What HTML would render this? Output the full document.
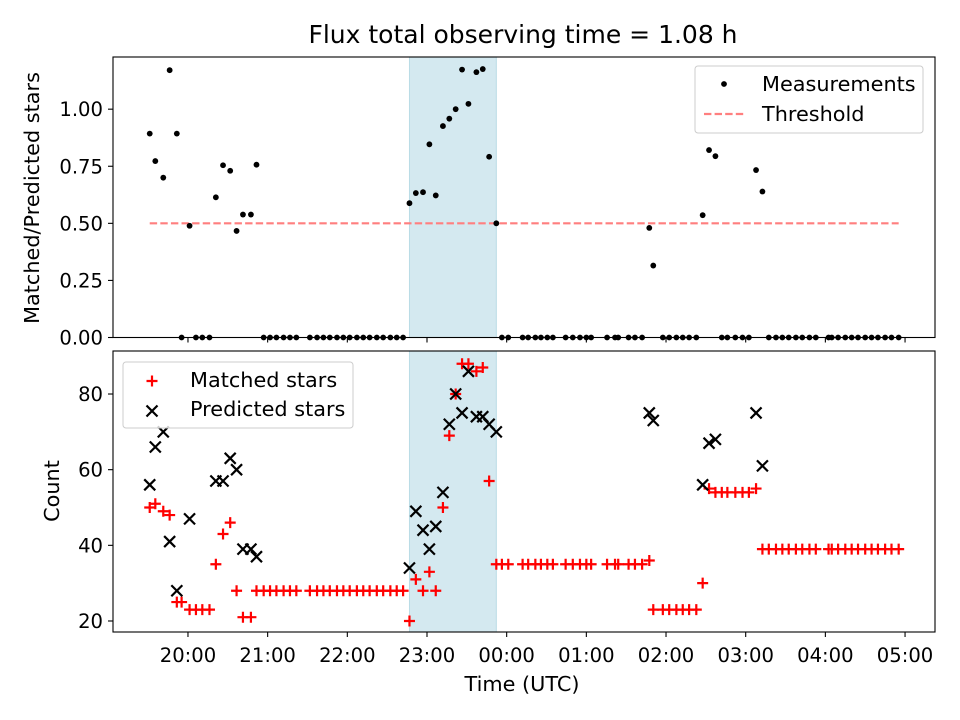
<!DOCTYPE html>
<html><head><meta charset="utf-8"><style>
html,body{margin:0;padding:0;background:#fff;}
svg{display:block;font-family:"DejaVu Sans","Liberation Sans",sans-serif;}
</style></head><body>
<svg id="chart" width="960" height="720" viewBox="0 0 960 720" xmlns="http://www.w3.org/2000/svg">
<rect x="0" y="0" width="960" height="720" fill="#fff"/>
<text x="523" y="43" font-size="25" text-anchor="middle">Flux total observing time = 1.08 h</text>
<g id="top"></g>
<g id="bot"></g>
<text transform="translate(39,198) rotate(-90)" font-size="20.8" text-anchor="middle">Matched/Predicted stars</text>
<text transform="translate(59,491) rotate(-90)" font-size="20.8" text-anchor="middle">Count</text>
<text x="522" y="691" font-size="20.8" text-anchor="middle">Time (UTC)</text>
</svg>
<script>
// hours since 20:00 UTC
const times = [-0.48,-0.41,-0.31,-0.23,-0.14,-0.08,0.02,0.10,0.18,0.27,0.35,0.44,0.53,0.61,0.69,0.79,0.86,0.95,1.03,1.11,1.20,1.28,1.36,1.53,1.62,1.70,1.78,1.87,1.95,2.03,2.12,2.20,2.28,2.37,2.45,2.54,2.62,2.70,2.78,2.86,2.95,3.03,3.11,3.20,3.28,3.36,3.44,3.52,3.62,3.70,3.78,3.87,3.94,4.02,4.20,4.27,4.36,4.43,4.51,4.58,4.74,4.83,4.92,5.00,5.06,5.26,5.36,5.40,5.53,5.61,5.70,5.79,5.84,5.96,6.04,6.13,6.21,6.29,6.38,6.46,6.54,6.62,6.70,6.77,6.87,6.96,7.04,7.13,7.21,7.29,7.38,7.46,7.54,7.63,7.71,7.80,7.88,8.04,8.08,8.16,8.25,8.33,8.41,8.50,8.58,8.66,8.75,8.83,8.92];
const matched = [50,51,49,48,25,25,23,23,23,23,35,43,46,28,21,21,28,28,28,28,28,28,28,28,28,28,28,28,28,28,28,28,28,28,28,28,28,28,20,31,28,33,28,50,69,80,88,88,86,87,57,35,35,35,35,35,35,35,35,35,35,35,35,35,35,35,35,35,35,35,35,36,23,23,23,23,23,23,23,30,55,54,54,54,54,54,54,55,39,39,39,39,39,39,39,39,39,39,39,39,39,39,39,39,39,39,39,39,39];
const predicted = [56,66,70,41,28,null,47,null,null,null,57,57,63,60,39,39,37,null,null,null,null,null,null,null,null,null,null,null,null,null,null,null,null,null,null,null,null,null,34,49,44,39,45,54,72,80,75,86,74,74,72,70,null,null,null,null,null,null,null,null,null,null,null,null,null,null,null,null,null,null,null,75,73,null,null,null,null,null,null,56,67,68,null,null,null,null,null,75,61,null,null,null,null,null,null,null,null,null,null,null,null,null,null,null,null,null,null,null,null,null,null];
const threshold = 0.5;
const spanStart = 2.78, spanEnd = 3.87;
const xTickValues = [0,1,2,3,4,5,6,7,8,9];
const xTickLabels = ["20:00","21:00","22:00","23:00","00:00","01:00","02:00","03:00","04:00","05:00"];
const topTicks = [0,0.25,0.5,0.75,1.0];
const topTickLabels = ["0.00","0.25","0.50","0.75","1.00"];
const botTicks = [20,40,60,80];

const NS="http://www.w3.org/2000/svg";
const L=113,R=935;
const X0=-0.941,X1=9.376;
const sx=v=>L+(v-X0)/(X1-X0)*(R-L);
const T={top:57,bot:337.5,y0:0,y1:1.2285};
const B={top:351,bot:632,y0:17.09,y1:91.37};
const sy=(p,v)=>p.bot-(v-p.y0)/(p.y1-p.y0)*(p.bot-p.top);
const FS=19.6, LFS=20.8;
function mk(parent,tag,attrs){const e=document.createElementNS(NS,tag);for(const k in attrs)e.setAttribute(k,attrs[k]);parent.appendChild(e);return e;}
const gt=document.getElementById('top'), gb=document.getElementById('bot');

function panel(g,p,ticks,labels,showX){
  const s=mk(g,'rect',{x:sx(spanStart),y:p.top,width:sx(spanEnd)-sx(spanStart),height:p.bot-p.top,fill:'#d4e9f0',stroke:'#b9dbe6','stroke-width':1});
  
  
  ticks.forEach((t,i)=>{
    const y=sy(p,t);
    mk(g,'line',{x1:L-5,x2:L,y1:y,y2:y,stroke:'#000','stroke-width':1.1});
    const tx=mk(g,'text',{x:L-10,y:y+7,'font-size':FS,'text-anchor':'end'});
    tx.textContent=labels[i];
    
    
  });
  xTickValues.forEach((v,i)=>{
    const x=sx(v);
    mk(g,'line',{x1:x,x2:x,y1:p.bot,y2:p.bot+5,stroke:'#000','stroke-width':1.1});
    if(showX){const tx=mk(g,'text',{x:x,y:662,'font-size':FS,'text-anchor':'middle'});
      tx.textContent=xTickLabels[i];
      
      }
  });
}
panel(gt,T,topTicks,topTickLabels,false);
panel(gb,B,botTicks,botTicks.map(String),true);

// top panel
const th=mk(gt,'line',{x1:sx(times[0]),x2:sx(times[times.length-1]),y1:sy(T,threshold),y2:sy(T,threshold),stroke:'#ff7f7f','stroke-width':2.2,'stroke-dasharray':'7.4,3.2'});


times.forEach((t,i)=>{
  const r=predicted[i]?matched[i]/predicted[i]:0;
  const c=mk(gt,'circle',{cx:sx(t),cy:sy(T,r),r:2.9,fill:'#000'});
  
  
});
mk(gt,'rect',{x:L,y:T.top,width:R-L,height:T.bot-T.top,fill:'none',stroke:'#000','stroke-width':1.1});

// bottom panel
function plus(g,x,y){return mk(g,'path',{d:`M${x-5.5},${y}H${x+5.5}M${x},${y-5.5}V${y+5.5}`,stroke:'#ff0000','stroke-width':2.2,fill:'none'});}
function cross(g,x,y){return mk(g,'path',{d:`M${x-5.5},${y-5.5}L${x+5.5},${y+5.5}M${x-5.5},${y+5.5}L${x+5.5},${y-5.5}`,stroke:'#000','stroke-width':2.2,fill:'none'});}
times.forEach((t,i)=>{
  const p=plus(gb,sx(t),sy(B,matched[i]));
  
  
});
times.forEach((t,i)=>{
  if(predicted[i]==null)return;
  const p=cross(gb,sx(t),sy(B,predicted[i]));
  
  
});
mk(gb,'rect',{x:L,y:B.top,width:R-L,height:B.bot-B.top,fill:'none',stroke:'#000','stroke-width':1.1});

// legends
function legendBox(g,x,y,w,h){mk(g,'rect',{x:x,y:y,width:w,height:h,rx:3,fill:'#fff','fill-opacity':0.8,stroke:'#ccc','stroke-width':1});}
const lt=mk(gt,'g',{});


legendBox(lt,695,66,228,67);
mk(lt,'circle',{cx:724,cy:84,r:2.9,fill:'#000'});
mk(lt,'line',{x1:704,x2:745,y1:114,y2:114,stroke:'#ff7f7f','stroke-width':2.2,'stroke-dasharray':'7.4,3.2'});
let e=mk(lt,'text',{x:762,y:91,'font-size':LFS});e.textContent='Measurements';


e=mk(lt,'text',{x:762,y:121,'font-size':LFS});e.textContent='Threshold';



const lb=mk(gb,'g',{});


legendBox(lb,123,362,230,66);
plus(lb,152,381);
cross(lb,152,411);
e=mk(lb,'text',{x:190,y:387,'font-size':LFS});e.textContent='Matched stars';


e=mk(lb,'text',{x:190,y:416,'font-size':LFS});e.textContent='Predicted stars';


</script>
</body></html>
